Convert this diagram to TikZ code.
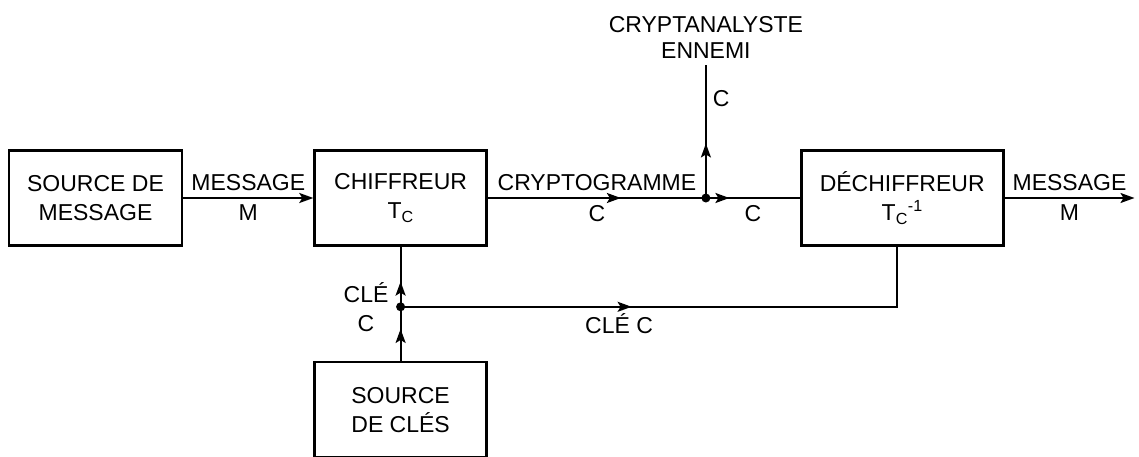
\documentclass[tikz,border=0pt]{standalone}
\usepackage{fontspec}
\setmainfont{Liberation Sans}
\usetikzlibrary{arrows.meta,positioning,decorations.markings}

\begin{document}
\begin{tikzpicture}[
      x=1pt, y=-1pt,
      every node/.style={font=\fontsize{23}{29}\selectfont},
      block/.style={draw, line width=2.6pt, align=center, inner sep=0pt, minimum width=172pt, minimum height=95pt},
      lbl/.style={inner sep=6pt, align=center},
      arrow/.style={line width=2pt, -{Stealth[length=14pt,width=10pt,inset=3pt]}},
      midarrow/.style={line width=2pt, postaction={decorate},
        decoration={markings, mark=at position #1 with {\arrow{Stealth[length=14pt,width=10pt,inset=3pt]}}}}
  ]
    \useasboundingbox (0,0) rectangle (1139,457);
    \node[block, minimum width=173pt] (srcmsg) at (95.5,198) {SOURCE DE\\MESSAGE};
    \node[block, right=130pt of srcmsg] (chif) {CHIFFREUR\\T\textsubscript{C}};
    \node[block, right=312pt of chif, minimum width=202pt] (dech) {DÉCHIFFREUR\\T\textsubscript{C}\textsuperscript{-1}};
    \node[block, below=114pt of chif] (srccle) {SOURCE\\DE CLÉS};
    \coordinate[right=218pt of chif.east] (tap);
    \coordinate[below=60pt of chif.south] (keytap);
    \coordinate[right=130pt of dech.east] (out);
    \node[lbl, above=133pt of tap, font=\fontsize{23}{26}\selectfont] (spy) {CRYPTANALYSTE\\ENNEMI};
    \node[lbl, left=6pt of keytap] (keylbl) {CLÉ\\C};
    % message path
    \draw[arrow] (srcmsg) -- (chif) node[lbl, midway, above] {MESSAGE} node[lbl, midway, below] {M};
    \draw[midarrow=0.61] (chif) -- (tap) node[lbl, midway, above] {CRYPTOGRAMME} node[lbl, midway, below] {C};
    \draw[midarrow=0.25] (tap) -- (dech) node[lbl, midway, below] {C};
    \draw[midarrow=0.41] (tap) -- (spy) node[lbl, pos=0.75, right] {C};
    \draw[arrow] (dech) -- (out) node[lbl, midway, above] {MESSAGE} node[lbl, midway, below] {M};
    % key path
    \draw[midarrow=0.59] (srccle) -- (keytap);
    \draw[midarrow=0.42] (keytap) -- (chif);
    \draw[midarrow=0.415] (keytap) -| ([xshift=-5pt]dech.south) node[lbl, pos=0.22, below] {CLÉ C};
    \fill (tap) circle (4.5pt);
    \fill (keytap) circle (4.5pt);
  \end{tikzpicture}
\end{document}
